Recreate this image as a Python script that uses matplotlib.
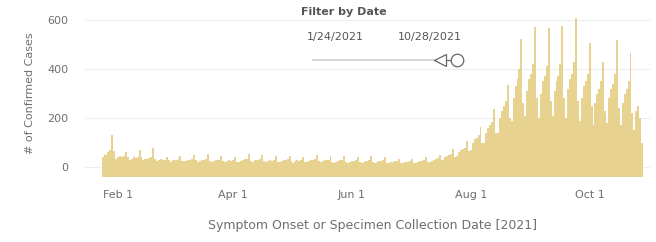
import numpy as np
import pandas as pd
import matplotlib
matplotlib.use("Agg")
import matplotlib.pyplot as plt
from matplotlib.lines import Line2D

# daily confirmed cases, weeks starting Sunday 2021-01-24
weeks = [
    [40, 55, 50, 60, 70, 130, 65],
    [35, 40, 45, 40, 45, 60, 40],
    [30, 35, 40, 38, 42, 70, 40],
    [28, 32, 35, 36, 40, 80, 35],
    [25, 30, 32, 30, 30, 40, 28],
    [22, 28, 30, 28, 32, 45, 26],
    [24, 26, 30, 30, 34, 50, 28],
    [22, 25, 28, 30, 32, 55, 25],
    [20, 24, 30, 28, 30, 45, 24],
    [22, 25, 28, 26, 30, 40, 22],
    [20, 26, 30, 32, 34, 55, 25],
    [22, 28, 30, 30, 32, 50, 24],
    [20, 25, 28, 26, 30, 45, 22],
    [22, 26, 30, 30, 32, 45, 24],
    [18, 24, 28, 26, 28, 40, 22],
    [20, 26, 30, 30, 34, 50, 24],
    [20, 24, 28, 28, 30, 45, 22],
    [18, 22, 26, 28, 30, 45, 20],
    [18, 22, 24, 26, 28, 40, 20],
    [16, 22, 26, 26, 30, 45, 20],
    [16, 20, 24, 24, 28, 40, 18],
    [15, 20, 22, 24, 26, 35, 18],
    [15, 20, 22, 22, 26, 35, 18],
    [16, 20, 24, 26, 28, 40, 20],
    [20, 26, 30, 32, 36, 48, 28],
    [30, 40, 45, 50, 55, 75, 42],
    [45, 60, 70, 75, 80, 105, 65],
    [70, 100, 115, 120, 130, 165, 100],
    [100, 140, 160, 170, 185, 235, 140],
    [140, 200, 230, 250, 270, 335, 200],
    [190, 280, 330, 360, 400, 520, 260],
    [210, 310, 360, 380, 420, 570, 280],
    [200, 300, 350, 370, 410, 565, 270],
    [210, 310, 350, 370, 420, 575, 280],
    [200, 320, 360, 380, 430, 607, 270],
    [190, 280, 330, 350, 380, 505, 250],
    [170, 260, 300, 320, 350, 430, 230],
    [180, 280, 320, 340, 380, 518, 240],
    [170, 260, 300, 320, 350, 465, 220],
    [150, 230, 250, 200, 100],
]
cases = [v for w in weeks for v in w]
dates = pd.date_range("2021-01-24", periods=len(cases), freq="D")

yticks = [0, 200, 400, 600]
xtick_dates = ["2021-02-01", "2021-04-01", "2021-06-01", "2021-08-01", "2021-10-01"]
xtick_labels = ["Feb 1", "Apr 1", "Jun 1", "Aug 1", "Oct 1"]

TXT = "#6E6E6E"
BAR = "#E8D290"
FONT = "DejaVu Sans"

fig = plt.figure(figsize=(6.56, 2.42), dpi=100)
ax = fig.add_axes([85 / 656, 65 / 242, 565 / 656, 167 / 242])

ax.bar(dates, np.array(cases) + 40, bottom=-40, width=1.0, color=BAR,
       linewidth=0, align="center")

ax.set_ylim(-40, 640)
ax.set_xlim(pd.Timestamp("2021-01-15"), pd.Timestamp("2021-11-01"))
ax.set_yticks(yticks)
ax.set_yticklabels([str(t) for t in yticks], fontsize=8, color=TXT, family=FONT)
ax.set_xticks(pd.to_datetime(xtick_dates))
ax.set_xticklabels(xtick_labels, fontsize=8, color=TXT, family=FONT)
ax.tick_params(axis="y", length=0, pad=12)
ax.tick_params(axis="x", length=0, pad=9)
ax.grid(axis="y", color="#EEEEEE", linewidth=0.8)
ax.set_axisbelow(True)
for s in ax.spines.values():
    s.set_visible(False)

ax.set_ylabel("# of Confirmed Cases", fontsize=8, color=TXT, family=FONT,
              labelpad=9)
fig.text(373 / 656, 1 - 226 / 242,
         "Symptom Onset or Specimen Collection Date [2021]",
         ha="center", va="center", fontsize=9, color=TXT, family=FONT)

# filter widget
fig.text(344 / 656, 1 - 12 / 242, "Filter by Date", ha="center", va="center",
         fontsize=8, color="#555555", family=FONT, fontweight="bold")
fig.text(335 / 656, 1 - 37 / 242, "1/24/2021", ha="center", va="center",
         fontsize=8, color="#555555", family=FONT)
fig.text(430 / 656, 1 - 37 / 242, "10/28/2021", ha="center", va="center",
         fontsize=8, color="#555555", family=FONT)
sy = 1 - 60 / 242
fig.add_artist(Line2D([313 / 656, 434 / 656], [sy, sy], color="#CCCCCC",
                      linewidth=1.2, transform=fig.transFigure))
fig.add_artist(Line2D([441 / 656, 455 / 656], [sy, sy], color="#777777",
                      linewidth=1.0, transform=fig.transFigure))
fig.add_artist(Line2D([440 / 656], [sy], marker="<", markersize=9,
                      markerfacecolor="white", markeredgecolor="#666666",
                      markeredgewidth=0.9, transform=fig.transFigure))
fig.add_artist(Line2D([457 / 656], [sy], marker="o", markersize=9,
                      markerfacecolor="white", markeredgecolor="#666666",
                      markeredgewidth=0.9, transform=fig.transFigure))

fig.savefig("out.png", dpi=100)
